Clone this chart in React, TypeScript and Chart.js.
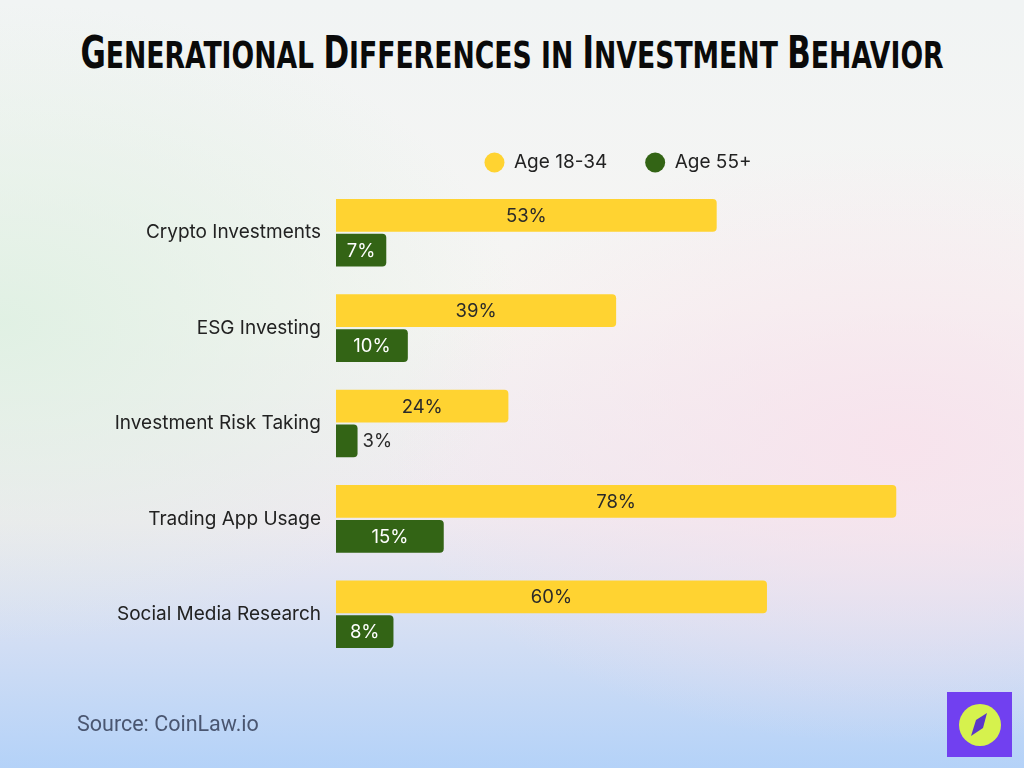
import React, { useEffect, useRef } from "react";
import { Chart, registerables } from "chart.js";

Chart.register(...registerables);

const categories = [
  "Crypto Investments",
  "ESG Investing",
  "Investment Risk Taking",
  "Trading App Usage",
  "Social Media Research",
];
const youngValues = [53, 39, 24, 78, 60];
const olderValues = [7, 10, 3, 15, 8];
const seriesNames = ["Age 18-34", "Age 55+"];
const titleWords = ["Generational", "Differences", "in", "Investment", "Behavior"];

const YELLOW = "#FFD331";
const GREEN = "#336415";
const FONT = "Inter";

const valueLabels = {
  id: "valueLabels",
  afterDatasetsDraw(chart: any) {
    const { ctx } = chart;
    ctx.save();
    ctx.font = `18.5px ${FONT}`;
    ctx.textBaseline = "middle";
    chart.data.datasets.forEach((ds: any, di: number) => {
      const meta = chart.getDatasetMeta(di);
      meta.data.forEach((bar: any, i: number) => {
        const text = ds.data[i] + "%";
        const w = ctx.measureText(text).width;
        const { x, y, base } = bar.getProps(["x", "y", "base"], true);
        const barW = x - base;
        if (barW > w + 12) {
          ctx.textAlign = "center";
          ctx.fillStyle = di === 0 ? "#2a2a2a" : "#ffffff";
          ctx.fillText(text, (x + base) / 2, y + 1);
        } else {
          ctx.textAlign = "left";
          ctx.fillStyle = "#2a2a2a";
          ctx.fillText(text, x + 5, y + 1);
        }
      });
    });
    ctx.restore();
  },
};

const legendShift = {
  id: "legendShift",
  afterLayout(chart: any) {
    const lg = chart.legend;
    if (lg) {
      lg.left += 111;
      lg.right += 111;
    }
  },
};

export default function App() {
  const ref = useRef<HTMLCanvasElement>(null);
  useEffect(() => {
    if (!ref.current) return;
    const chart = new Chart(ref.current, {
      type: "bar",
      data: {
        labels: categories,
        datasets: [
          {
            label: seriesNames[0],
            data: youngValues,
            backgroundColor: YELLOW,
            borderRadius: 4,
            barPercentage: 0.94,
            categoryPercentage: 0.73,
          },
          {
            label: seriesNames[1],
            data: olderValues,
            backgroundColor: GREEN,
            borderRadius: 4,
            barPercentage: 0.94,
            categoryPercentage: 0.73,
          },
        ],
      },
      options: {
        indexAxis: "y",
        responsive: false,
        animation: false,
        layout: { padding: { top: 115, left: 10, right: 20, bottom: 106 } },
        plugins: {
          title: { display: false },
          tooltip: { enabled: false },
          legend: {
            display: true,
            position: "top",
            labels: {
              usePointStyle: true,
              pointStyle: "circle",
              boxWidth: 14,
              boxHeight: 14,
              pointStyleWidth: 20,
              padding: 38,
              color: "#222222",
              font: { family: FONT, size: 19 },
            },
          },
        },
        scales: {
          x: {
            display: true,
            position: "top",
            min: 0,
            max: 93,
            afterFit: (scale: any) => {
              scale.height = 3;
            },
            grid: { display: false, drawTicks: false },
            border: { display: false },
            ticks: { display: false },
          },
          y: {
            afterFit: (scale: any) => {
              scale.width = 326;
            },
            grid: { display: false, drawTicks: false },
            border: { display: false },
            ticks: {
              padding: 15,
              color: "#222222",
              font: { family: FONT, size: 19 },
            },
          },
        },
      },
      plugins: [valueLabels, legendShift],
    } as any);
    return () => chart.destroy();
  }, []);

  return (
    <div
      style={{
        position: "fixed",
        left: 0,
        top: 0,
        width: 1024,
        height: 768,
        overflow: "hidden",
        background:
          "radial-gradient(ellipse 520px 320px at 0% 42%, rgba(222,240,226,0.9), rgba(222,240,226,0) 100%), radial-gradient(ellipse 520px 300px at 88% 58%, rgba(248,226,236,0.9), rgba(248,226,236,0) 100%), linear-gradient(to bottom, #f1f4f4 0%, #f6f5f3 40%, #eee9f0 68%, #b4d2f8 100%)",
      }}
    >
      <div
        style={{
          position: "absolute",
          top: 28,
          left: 512,
          whiteSpace: "nowrap",
          transform: "translateX(-50%) scaleX(0.78)",
          fontFamily: "'DejaVu Sans', sans-serif",
          fontStretch: "condensed",
          fontWeight: "bold",
          color: "#0a0a0a",
          lineHeight: "50px",
        }}
      >
        {titleWords.map((w, i) => {
          const big = w[0] === w[0].toUpperCase();
          return (
            <span key={i}>
              {big ? (
                <span style={{ fontSize: 44 }}>{w[0]}</span>
              ) : (
                <span style={{ fontSize: 38 }}>{w[0].toUpperCase()}</span>
              )}
              <span style={{ fontSize: 38 }}>{w.slice(1).toUpperCase()}</span>
              {i < titleWords.length - 1 ? <span style={{ fontSize: 38 }}> </span> : null}
            </span>
          );
        })}
      </div>
      <canvas
        ref={ref}
        width={1024}
        height={768}
        style={{ position: "absolute", left: 0, top: 0, width: 1024, height: 768 }}
      />
      <div
        style={{
          position: "absolute",
          left: 77,
          top: 711,
          fontFamily: "Roboto, sans-serif",
          fontSize: 21.5,
          color: "#4a5670",
        }}
      >
        Source: CoinLaw.io
      </div>
      <svg
        width={1024}
        height={768}
        style={{ position: "absolute", left: 0, top: 0, pointerEvents: "none" }}
      >
        <rect x={947} y={692} width={65} height={65} fill="#7140F0" />
        <circle cx={980} cy={725} r={21} fill="#D6F24D" />
        <polygon points="987,713 983,728 971,736 976,720" fill="#5B36C9" />
      </svg>
    </div>
  );
}
